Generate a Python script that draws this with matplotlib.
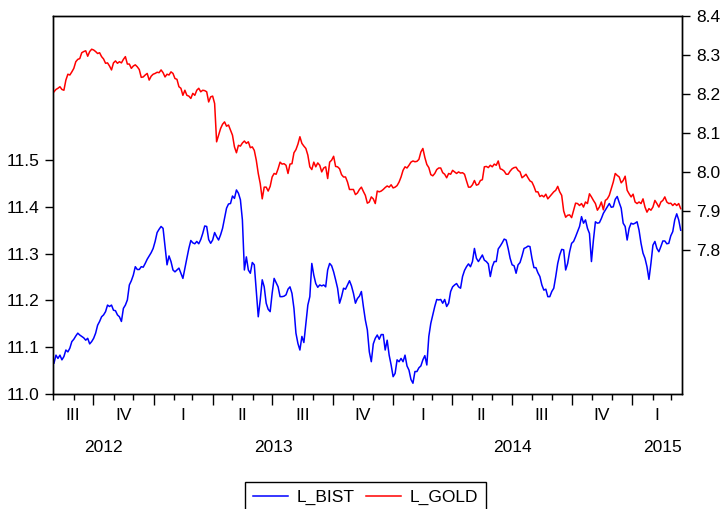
import matplotlib
matplotlib.use("Agg")
import matplotlib.pyplot as plt
import matplotlib.dates as mdates
import pandas as pd
import numpy as np

plt.rcParams['font.family'] = ['Liberation Sans', 'DejaVu Sans']

series_names = ["L_BIST", "L_GOLD"]
start_date = "2012-08-02"
end_date = "2015-03-16"

l_bist = [
    11.066, 11.083, 11.076, 11.083, 11.073, 11.080, 11.094, 11.090, 11.098, 11.112,
    11.117, 11.124, 11.130, 11.126, 11.123, 11.120, 11.115, 11.119, 11.107, 11.112,
    11.119, 11.130, 11.147, 11.155, 11.165, 11.169, 11.176, 11.190, 11.187, 11.190,
    11.179, 11.178, 11.169, 11.165, 11.155, 11.183, 11.190, 11.201, 11.233, 11.242,
    11.254, 11.272, 11.266, 11.266, 11.272, 11.271, 11.279, 11.288, 11.295, 11.302,
    11.311, 11.326, 11.345, 11.352,
    11.358, 11.354, 11.315, 11.276, 11.295, 11.283, 11.265, 11.261, 11.265, 11.269,
    11.258, 11.247, 11.269, 11.290, 11.311, 11.328, 11.323, 11.321, 11.326, 11.321,
    11.330, 11.343, 11.359, 11.358, 11.330, 11.322, 11.329, 11.345, 11.336, 11.329,
    11.340, 11.354, 11.375, 11.397, 11.406, 11.407, 11.423, 11.418, 11.436, 11.429,
    11.415, 11.372, 11.265, 11.293, 11.265, 11.258, 11.281, 11.276, 11.222, 11.165,
    11.201, 11.244, 11.229,
    11.194, 11.181, 11.176, 11.215, 11.247, 11.238, 11.229, 11.208, 11.208, 11.209,
    11.212, 11.224, 11.229, 11.215, 11.183, 11.130, 11.108, 11.094, 11.123, 11.110,
    11.151, 11.190, 11.208, 11.279, 11.254, 11.236, 11.228, 11.233, 11.231, 11.233,
    11.229, 11.265, 11.279, 11.274, 11.261, 11.244, 11.226, 11.194, 11.208, 11.226,
    11.224, 11.233, 11.242, 11.231, 11.215, 11.194, 11.204, 11.209, 11.219, 11.187,
    11.158, 11.137, 11.090,
    11.069, 11.107, 11.119, 11.126, 11.117, 11.127, 11.127, 11.094, 11.115, 11.083,
    11.062, 11.037, 11.044, 11.073, 11.069, 11.076, 11.069, 11.083, 11.060, 11.051,
    11.031, 11.023, 11.048, 11.048, 11.056, 11.060, 11.073, 11.082, 11.062, 11.123,
    11.151, 11.169, 11.187, 11.202, 11.201, 11.202, 11.194, 11.202, 11.187, 11.194,
    11.219, 11.229, 11.233, 11.236, 11.229, 11.226, 11.251, 11.264, 11.272, 11.278,
    11.272, 11.283, 11.311,
    11.290, 11.283, 11.290, 11.297, 11.286, 11.283, 11.278, 11.251, 11.272, 11.283,
    11.283, 11.310, 11.316, 11.323, 11.331, 11.329, 11.311, 11.290, 11.276, 11.274,
    11.258, 11.276, 11.281, 11.295, 11.311, 11.313, 11.316, 11.315, 11.290, 11.270,
    11.270, 11.259, 11.251, 11.233, 11.222, 11.224, 11.208, 11.208, 11.219, 11.226,
    11.251, 11.279, 11.297, 11.309, 11.308, 11.265, 11.279, 11.304, 11.322, 11.326,
    11.336, 11.347, 11.358,
    11.379, 11.365, 11.372, 11.354, 11.343, 11.283, 11.329, 11.368, 11.365, 11.366,
    11.375, 11.386, 11.393, 11.400, 11.407, 11.399, 11.400, 11.416, 11.422, 11.409,
    11.397, 11.365, 11.358, 11.329, 11.354, 11.365, 11.363, 11.365, 11.368, 11.350,
    11.322, 11.301, 11.290, 11.272, 11.245, 11.279, 11.318, 11.326, 11.311, 11.304,
    11.315, 11.327, 11.327, 11.321, 11.322, 11.338, 11.347, 11.372, 11.385, 11.372,
    11.350,
]

l_gold = [
    8.206, 8.212, 8.215, 8.219, 8.212, 8.210, 8.236, 8.251, 8.249, 8.257,
    8.266, 8.283, 8.289, 8.291, 8.306, 8.309, 8.311, 8.297, 8.309, 8.315,
    8.313, 8.309, 8.304, 8.306, 8.296, 8.290, 8.279, 8.280, 8.272, 8.262,
    8.280, 8.285, 8.279, 8.283, 8.280, 8.289, 8.296, 8.277, 8.277, 8.266,
    8.272, 8.275, 8.270, 8.263, 8.243, 8.244, 8.249, 8.253, 8.236, 8.246,
    8.251, 8.253, 8.256, 8.255,
    8.262, 8.255, 8.244, 8.251, 8.249, 8.257, 8.253, 8.240, 8.238, 8.219,
    8.215, 8.197, 8.210, 8.197, 8.195, 8.189, 8.202, 8.197, 8.210, 8.215,
    8.206, 8.210, 8.209, 8.206, 8.180, 8.193, 8.195, 8.176, 8.078, 8.095,
    8.112, 8.123, 8.129, 8.118, 8.121, 8.108, 8.095, 8.065, 8.050, 8.069,
    8.067, 8.075, 8.080, 8.074, 8.078, 8.063, 8.065, 8.056, 8.031, 7.997,
    7.971, 7.932, 7.962,
    7.962, 7.952, 7.964, 7.988, 7.997, 7.995, 8.009, 8.026, 8.021, 8.022,
    8.018, 7.997, 8.021, 8.022, 8.050, 8.058, 8.072, 8.091, 8.074, 8.067,
    8.061, 8.044, 8.014, 8.007, 8.026, 8.014, 8.024, 8.018, 8.001, 8.011,
    8.014, 7.984, 8.026, 8.031, 8.041, 8.015, 8.014, 8.009, 7.994, 7.988,
    7.988, 7.975, 7.956, 7.956, 7.956, 7.943, 7.947, 7.956, 7.962, 7.951,
    7.941, 7.921, 7.924,
    7.937, 7.932, 7.920, 7.952, 7.950, 7.952, 7.956, 7.961, 7.965, 7.962,
    7.968, 7.960, 7.962, 7.966, 7.975, 7.988, 8.005, 8.014, 8.011, 8.018,
    8.026, 8.029, 8.027, 8.028, 8.033, 8.052, 8.061, 8.038, 8.020, 8.012,
    7.994, 7.991, 7.997, 8.007, 8.011, 8.011, 7.999, 7.995, 7.986, 7.997,
    7.995, 8.005, 8.001, 7.997, 8.001, 7.998, 7.999, 7.995, 7.978, 7.962,
    7.962, 7.968, 7.979,
    7.967, 7.969, 7.979, 7.981, 8.014, 8.015, 8.012, 8.018, 8.014, 8.021,
    8.018, 8.029, 8.009, 8.007, 8.003, 7.995, 7.995, 8.003, 8.009, 8.012,
    8.013, 8.005, 8.001, 7.986, 7.990, 7.995, 7.986, 7.978, 7.975, 7.964,
    7.950, 7.950, 7.938, 7.941, 7.937, 7.944, 7.932, 7.938, 7.944, 7.950,
    7.954, 7.964, 7.950, 7.941, 7.901, 7.885, 7.890, 7.891, 7.884, 7.903,
    7.921, 7.920, 7.915,
    7.920, 7.911, 7.924, 7.920, 7.945, 7.937, 7.928, 7.920, 7.903, 7.911,
    7.924, 7.904, 7.928, 7.932, 7.941, 7.958, 7.975, 7.997, 7.992, 7.988,
    7.973, 7.979, 7.990, 7.954, 7.945, 7.937, 7.944, 7.924, 7.920, 7.924,
    7.920, 7.932, 7.911, 7.898, 7.907, 7.903, 7.911, 7.928, 7.920, 7.911,
    7.924, 7.928, 7.937, 7.924, 7.920, 7.921, 7.915, 7.920, 7.915, 7.920,
    7.907,
]

left_ticks = [11.0, 11.1, 11.2, 11.3, 11.4, 11.5]
right_ticks = [7.8, 7.9, 8.0, 8.1, 8.2, 8.3, 8.4]
quarter_names = ["I", "II", "III", "IV"]
years = [2012, 2013, 2014, 2015]

n = min(len(l_bist), len(l_gold))
dates = pd.date_range(start_date, end_date, periods=n)

W, H = 722, 509
fig = plt.figure(figsize=(W / 100, H / 100), dpi=100)
L, R, T, B = 53, 682, 16, 394
ax = fig.add_axes([L / W, 1 - B / H, (R - L) / W, (B - T) / H])
ax2 = ax.twinx()

fs = 12.5
b_line, = ax.plot(dates, l_bist[:n], color="#0000FF", lw=1.1, label=series_names[0])
g_line, = ax2.plot(dates, l_gold[:n], color="#FF0000", lw=1.1, label=series_names[1])

xmin = pd.Timestamp("2012-07-31 12:00")
xmax = pd.Timestamp("2015-03-18")
ax.set_xlim(xmin, xmax)
ax.set_ylim(11.0, 11.8077)
ax2.set_ylim(7.4326, 8.4)

ax.set_yticks(left_ticks)
ax.set_yticklabels([f"{v:.1f}" for v in left_ticks], fontsize=fs)
ax2.set_yticks(right_ticks)
ax2.set_yticklabels([f"{v:.1f}" for v in right_ticks], fontsize=fs)

ax.tick_params(axis="y", direction="out", length=6, width=1, pad=4, colors="black")
ax2.tick_params(axis="y", direction="out", length=6, width=1, pad=4, colors="black")

# x ticks: quarter starts (major, long), months (minor, short)
ax.xaxis.set_major_locator(mdates.MonthLocator(bymonth=[1, 4, 7, 10]))
ax.xaxis.set_minor_locator(mdates.MonthLocator())
ax.xaxis.set_major_formatter(plt.NullFormatter())
ax.tick_params(axis="x", which="major", direction="out", length=8, width=1)
ax.tick_params(axis="x", which="minor", direction="out", length=4, width=1)

for a in (ax, ax2):
    for s in a.spines.values():
        s.set_linewidth(1.0)
        s.set_color("black")

# quarter labels
xt = ax.get_xaxis_transform()
q_y = -(415 - B) / (B - T)
y_y = -(448 - B) / (B - T)
for yr in years:
    for qi in range(4):
        qs = pd.Timestamp(year=yr, month=3 * qi + 1, day=1)
        qe = qs + pd.DateOffset(months=3)
        s = max(qs, xmin)
        e = min(qe, xmax)
        if e <= s:
            continue
        if (e - s).days < 20:
            continue
        mid = s + (e - s) / 2
        ax.text(mid, q_y, quarter_names[qi], transform=xt, ha="center", va="center", fontsize=fs)
    ys = pd.Timestamp(year=yr, month=1, day=1)
    ye = pd.Timestamp(year=yr + 1, month=1, day=1)
    s = max(ys, xmin)
    e = min(ye, xmax)
    if e <= s:
        continue
    mid = s + (e - s) / 2
    ha = "center"
    if yr == years[-1]:
        mid = xmax
        ha = "right"
    ax.text(mid, y_y, str(yr), transform=xt, ha=ha, va="center", fontsize=fs)

leg = fig.legend(handles=[b_line, g_line], loc="upper left",
                 bbox_to_anchor=(245 / W, 1 - 482 / H), ncol=2, fontsize=fs,
                 frameon=True, fancybox=False, edgecolor="black", framealpha=1,
                 handlelength=2.0, handletextpad=0.5, columnspacing=0.7,
                 borderpad=0.45, borderaxespad=0)
leg.get_frame().set_linewidth(1.0)

fig.savefig("out.png", dpi=100)
